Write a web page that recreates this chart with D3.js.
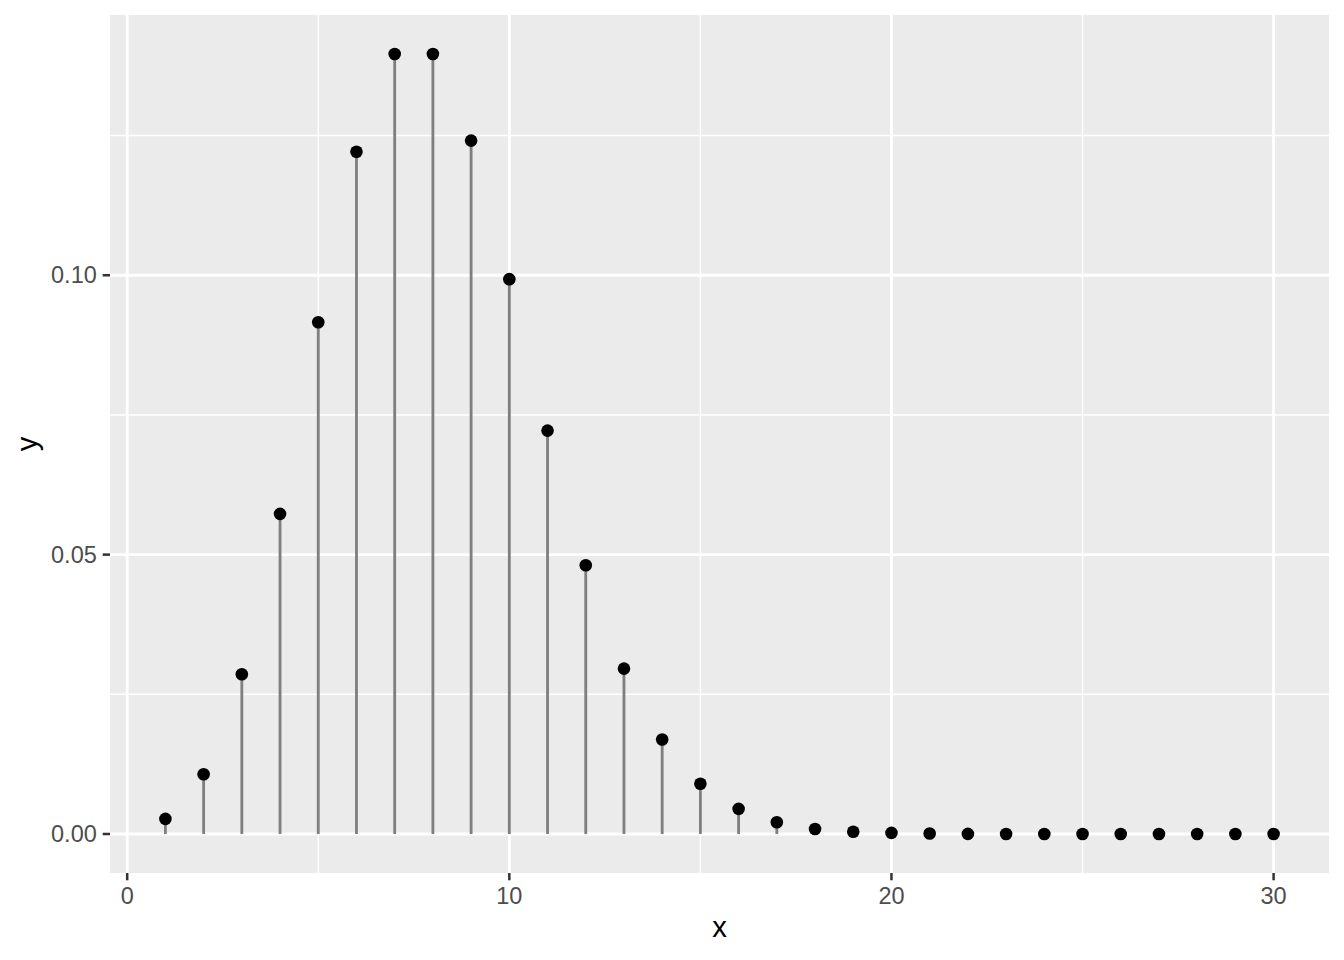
<!DOCTYPE html>
<html><head><meta charset="utf-8">
<script src="https://cdn.jsdelivr.net/npm/d3@7"></script>
<style>html,body{margin:0;padding:0;background:#fff;}</style>
</head><body>
<script>
const xs = [1,2,3,4,5,6,7,8,9,10,11,12,13,14,15,16,17,18,19,20,21,22,23,24,25,26,27,28,29,30];
const ys = [0.0027,0.0107,0.0286,0.0573,0.0916,0.1221,0.1396,0.1396,0.1241,0.0993,0.0722,0.0481,0.0296,0.0169,0.0090,0.0045,0.0021,0.0009,0.0004,0.0002,0.0001,0.00002,0.00001,0,0,0,0,0,0,0];
const xTicks = [0,10,20,30];
const xMinor = [5,15,25];
const yTicks = [0,0.05,0.10];
const yMinor = [0.025,0.075,0.125];
const yTickLabels = ["0.00","0.05","0.10"];

const W=1344,H=960;
const L=110,R=1329,T=15,B=873;
const svg=d3.select("body").append("svg").attr("width",W).attr("height",H).style("font-family","Liberation Sans, Arial, sans-serif");
const xmin=d3.min(xs), xmax=d3.max(xs), xr=(xmax-xmin)*0.05;
const ymin=0, ymax=d3.max(ys), yr=(ymax-ymin)*0.05;
const x=d3.scaleLinear().domain([xmin-xr,xmax+xr]).range([L,R]);
const y=d3.scaleLinear().domain([ymin-yr,ymax+yr]).range([B,T]);

svg.append("rect").attr("x",L).attr("y",T).attr("width",R-L).attr("height",B-T).attr("fill","#ebebeb");
const g=svg.append("g");
g.selectAll(".ymin").data(yMinor).join("line").attr("x1",L).attr("x2",R).attr("y1",d=>y(d)).attr("y2",d=>y(d)).attr("stroke","#fff").attr("stroke-width",1.42);
g.selectAll(".xmin").data(xMinor).join("line").attr("y1",T).attr("y2",B).attr("x1",d=>x(d)).attr("x2",d=>x(d)).attr("stroke","#fff").attr("stroke-width",1.42);
g.selectAll(".ymaj").data(yTicks).join("line").attr("x1",L).attr("x2",R).attr("y1",d=>y(d)).attr("y2",d=>y(d)).attr("stroke","#fff").attr("stroke-width",2.84);
g.selectAll(".xmaj").data(xTicks).join("line").attr("y1",T).attr("y2",B).attr("x1",d=>x(d)).attr("x2",d=>x(d)).attr("stroke","#fff").attr("stroke-width",2.84);

const data=xs.map((d,i)=>({x:d,y:ys[i]}));
svg.selectAll(".seg").data(data).join("line").attr("x1",d=>x(d.x)).attr("x2",d=>x(d.x)).attr("y1",y(0)).attr("y2",d=>y(d.y)).attr("stroke","#7f7f7f").attr("stroke-width",2.84);
svg.selectAll(".pt").data(data).join("circle").attr("cx",d=>x(d.x)).attr("cy",d=>y(d.y)).attr("r",6.3).attr("fill","#000");

// axes
const tl=7.3, tm=5.9, fs=23.5;
const xa=svg.append("g");
xa.selectAll("line").data(xTicks).join("line").attr("x1",d=>x(d)).attr("x2",d=>x(d)).attr("y1",B).attr("y2",B+tl).attr("stroke","#333").attr("stroke-width",2.5);
xa.selectAll("text").data(xTicks).join("text").attr("x",d=>x(d)).attr("y",904).attr("text-anchor","middle").attr("font-size",fs).attr("fill","#4d4d4d").text(d=>d);
const ya=svg.append("g");
ya.selectAll("line").data(yTicks).join("line").attr("y1",d=>y(d)).attr("y2",d=>y(d)).attr("x1",L-tl).attr("x2",L).attr("stroke","#333").attr("stroke-width",2.5);
ya.selectAll("text").data(yTicks).join("text").attr("x",L-tl-tm).attr("y",d=>y(d)).attr("dy","0.35em").attr("text-anchor","end").attr("font-size",fs).attr("fill","#4d4d4d").text((d,i)=>yTickLabels[i]);

svg.append("text").attr("x",(L+R)/2).attr("y",937).attr("text-anchor","middle").attr("font-size",29.3).attr("fill","#000").text("x");
svg.append("text").attr("transform",`translate(37,${(T+B)/2}) rotate(-90)`).attr("text-anchor","middle").attr("font-size",29.3).attr("fill","#000").text("y");
</script>
</body></html>
